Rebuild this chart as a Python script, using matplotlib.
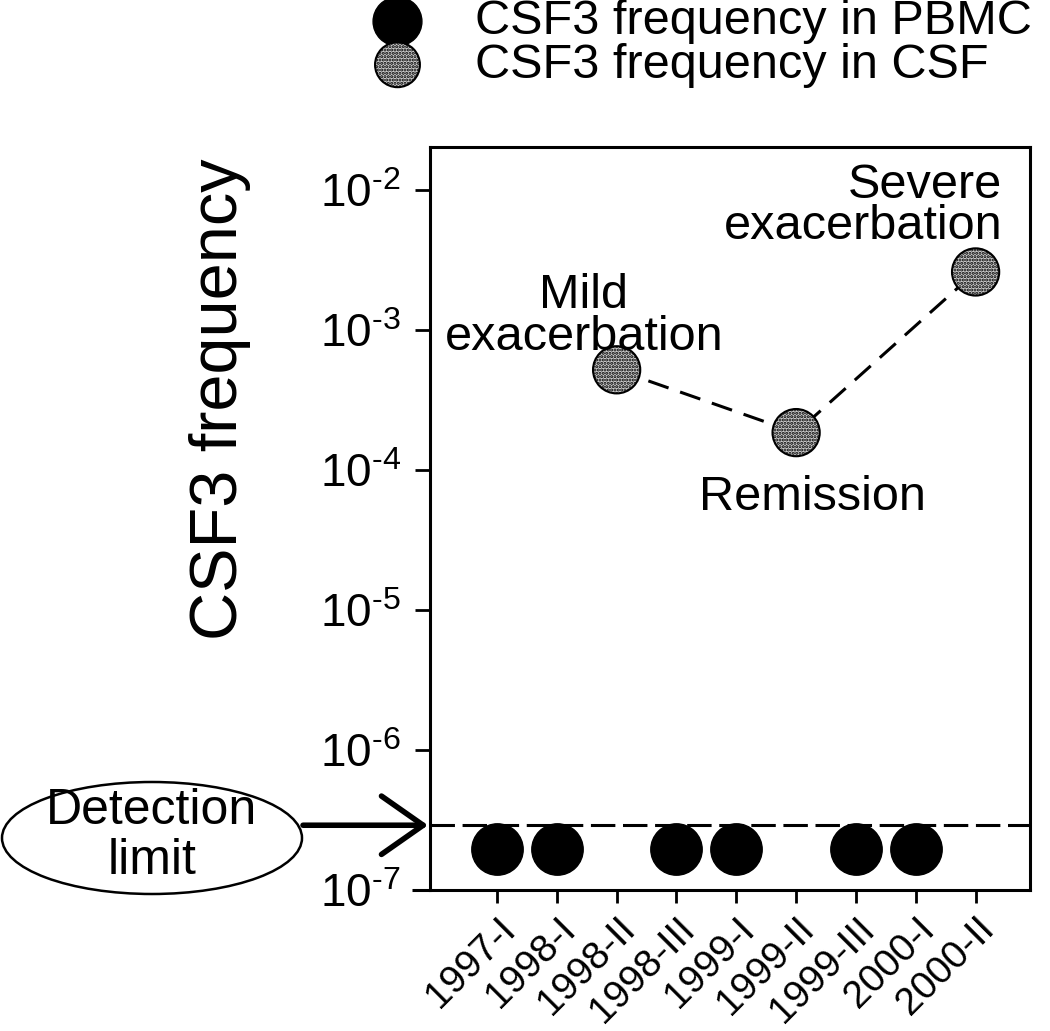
import numpy as np
import matplotlib
matplotlib.use("Agg")
import matplotlib.pyplot as plt
from matplotlib.patches import Ellipse
from matplotlib.ticker import LogLocator, NullLocator, FuncFormatter
import matplotlib.transforms as mtransforms

# font setup (Arial-like)
plt.rcParams['font.family'] = ['Liberation Sans', 'DejaVu Sans']
plt.rcParams['mathtext.fontset'] = 'custom'
plt.rcParams['mathtext.rm'] = 'Liberation Sans'
plt.rcParams['mathtext.it'] = 'Liberation Sans:italic'
plt.rcParams['mathtext.bf'] = 'Liberation Sans:bold'
plt.rcParams['hatch.linewidth'] = 1.5

# data
periods = ['1997-I', '1998-I', '1998-II', '1998-III', '1999-I',
           '1999-II', '1999-III', '2000-I', '2000-II']
pbmc_idx = [0, 1, 3, 4, 6, 7]
pbmc_freq = [1.95e-7, 1.95e-7, 1.95e-7, 1.95e-7, 1.95e-7, 1.95e-7]
csf_idx = [2, 5, 8]
csf_freq = [5.2e-4, 1.85e-4, 2.6e-3]
csf_notes = ['Mild\nexacerbation', 'Remission', 'Severe\nexacerbation']
detection_limit = 2.9e-7

fig = plt.figure(figsize=(10.5, 10.31), dpi=100)
ax = fig.add_axes([0.4095, 0.1368, 0.5715, 0.7206])

x = np.arange(len(periods))

# CSF series: dashed line + dotted grey markers
ax.plot(csf_idx, csf_freq, color='black', lw=2.2, ls=(0, (7, 4)), zorder=2)
csf_pts = ax.scatter(csf_idx, csf_freq, s=34**2, facecolor='#cccccc',
                     edgecolor='black', linewidths=1.5, hatch='.....', zorder=3)
# PBMC series: black dots
pbmc_pts = ax.scatter(pbmc_idx, pbmc_freq, s=37**2, color='black', zorder=3)

# detection limit line
ax.axhline(detection_limit, color='black', lw=2.2, ls=(0, (8, 2.5)), zorder=1)

ax.set_yscale('log')
ax.set_ylim(1e-7, 2.03e-2)
ax.set_xlim(-1.12, 8.91)
ax.yaxis.set_major_locator(LogLocator(base=10, numticks=10))
ax.yaxis.set_minor_locator(NullLocator())
ax.yaxis.set_major_formatter(FuncFormatter(
    lambda v, pos: r'$10^{\text{-%d}}$' % round(-np.log10(v))))
ax.set_xticks(x)
ax.set_xticklabels(periods, rotation=45, ha='right', rotation_mode='anchor')
# shift x labels a bit right like the original
offset = mtransforms.ScaledTranslation(12 / 100, 0, fig.dpi_scale_trans)
for lab in ax.get_xticklabels():
    lab.set_transform(lab.get_transform() + offset)

for s in ax.spines.values():
    s.set_linewidth(2.2)
# bottom axis line runs a little past the left spine
ax.plot([-0.03, 0], [0, 0], transform=ax.transAxes, color='black', lw=2.2,
        clip_on=False, solid_capstyle='butt')
ax.tick_params(axis='y', direction='out', length=11, width=2, labelsize=33, pad=10)
ax.tick_params(axis='x', direction='out', length=9, width=2, labelsize=28, pad=6)

ax.set_ylabel('CSF3 frequency', fontsize=48)
ax.yaxis.set_label_coords(-0.298, 0.66)

# annotations
ax.text(csf_idx[0] - 0.55, csf_freq[0] * 1.18, csf_notes[0], fontsize=35,
        ha='center', va='bottom', linespacing=0.9)
ax.text(csf_idx[1] + 0.27, csf_freq[1] / 2.0, csf_notes[1], fontsize=35,
        ha='center', va='top')
ax.text(csf_idx[2] + 0.45, csf_freq[2] * 1.45, csf_notes[2], fontsize=35,
        ha='right', va='bottom', linespacing=0.9, multialignment='right')

# detection limit callout
ell = Ellipse((152 / 1050, 1 - 838 / 1031), 300 / 1050, 112 / 1031,
              transform=fig.transFigure, facecolor='none', edgecolor='black', lw=1.8)
fig.patches.append(ell)
fig.text(152 / 1050, 1 - 836 / 1031, 'Detection\nlimit', fontsize=36,
         ha='center', va='center', linespacing=1.12)
trans = mtransforms.blended_transform_factory(fig.transFigure, ax.transData)
ax.annotate('', xy=(0.4076, detection_limit), xycoords=trans,
            xytext=(303 / 1050, detection_limit), textcoords=trans,
            arrowprops=dict(arrowstyle='->,head_length=1.0,head_width=0.7',
                            lw=4, color='black', mutation_scale=30,
                            shrinkA=0, shrinkB=0),
            annotation_clip=False)

# legend at top
fig.legend([pbmc_pts, csf_pts],
           ['CSF3 frequency in PBMC', 'CSF3 frequency in CSF'],
           loc='upper left', bbox_to_anchor=(0.323, 1.034), frameon=False,
           fontsize=35, handletextpad=1.1, labelspacing=-0.03,
           handlelength=1.0, markerscale=0.95, borderpad=0.2)

fig.savefig('out.png', dpi=100)
